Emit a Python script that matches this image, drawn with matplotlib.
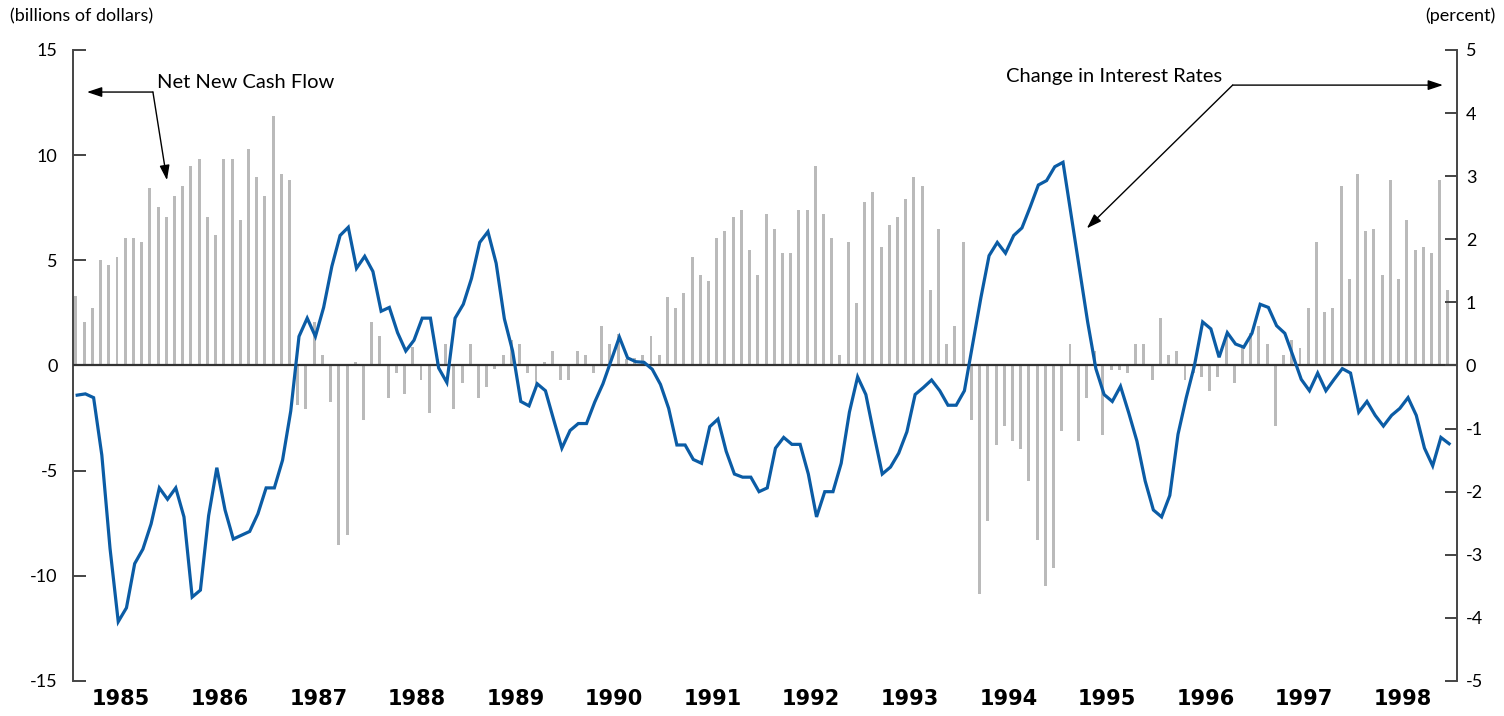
import numpy as np
import matplotlib
matplotlib.use("Agg")
import matplotlib.pyplot as plt

plt.rcParams['font.family'] = ['Lato', 'DejaVu Sans']
plt.rcParams['axes.unicode_minus'] = False

# monthly data, Jan 1985 - Dec 1998
years = [str(y) for y in range(1985, 1999)]

# net new cash flow, billions of dollars (bars)
cash_flow = [
    3.3, 2.05, 2.75, 5.0, 4.8, 5.15, 6.05, 6.05, 5.85, 8.45, 7.55, 7.05,
    8.05, 8.55, 9.5, 9.8, 7.05, 6.2, 9.8, 9.8, 6.9, 10.3, 8.95, 8.05,
    11.85, 9.1, 8.8, -1.9, -2.05, 2.05, 0.5, -1.75, -8.55, -8.05, 0.15, -2.6,
    2.05, 1.4, -1.55, -0.35, -1.35, 0.9, -0.7, -2.25, 0.3, 1.0, -2.05, -0.85,
    1.0, -1.55, -1.0, -0.15, 0.5, 1.2, 1.0, -0.35, -1.0, 0.15, 0.7, -0.7,
    -0.7, 0.7, 0.5, -0.35, 1.9, 1.0, 1.5, 0.3, 0.35, 0.5, 1.4, 0.5,
    3.25, 2.75, 3.45, 5.15, 4.3, 4.0, 6.05, 6.4, 7.05, 7.4, 5.5, 4.3,
    7.2, 6.5, 5.35, 5.35, 7.4, 7.4, 9.5, 7.2, 6.05, 0.5, 5.85, 2.95,
    7.75, 8.25, 5.65, 6.7, 7.05, 7.9, 8.95, 8.55, 3.6, 6.5, 1.0, 1.9,
    5.85, -2.6, -10.85, -7.4, -3.8, -2.9, -3.6, -3.95, -5.5, -8.3, -10.5, -9.65,
    -3.1, 1.0, -3.6, -1.55, 0.7, -3.3, -0.2, -0.2, -0.35, 1.0, 1.0, -0.7,
    2.25, 0.5, 0.7, -0.7, -0.35, -0.55, -1.2, -0.55, 1.4, -0.85, 0.9, 1.55,
    1.9, 1.0, -2.9, 0.5, 1.2, 0.85, 2.75, 5.85, 2.55, 2.75, 8.55, 4.1,
    9.1, 6.4, 6.5, 4.3, 8.8, 4.1, 6.9, 5.5, 5.65, 5.35, 8.8, 3.6,
]

# change in interest rates, percent (line)
rate_change = [
    -0.47, -0.45, -0.51, -1.42, -2.90, -4.06, -3.84, -3.14, -2.91, -2.51, -1.94, -2.12,
    -1.94, -2.40, -3.67, -3.56, -2.38, -1.62, -2.29, -2.75, -2.69, -2.63, -2.35, -1.94,
    -1.94, -1.50, -0.72, 0.46, 0.75, 0.46, 0.92, 1.57, 2.06, 2.19, 1.54, 1.73,
    1.49, 0.86, 0.92, 0.52, 0.23, 0.40, 0.75, 0.75, -0.04, -0.27, 0.75, 0.97,
    1.38, 1.95, 2.12, 1.62, 0.74, 0.23, -0.57, -0.64, -0.29, -0.40, -0.86, -1.31,
    -1.03, -0.92, -0.92, -0.58, -0.29, 0.08, 0.45, 0.12, 0.06, 0.05, -0.06, -0.30,
    -0.68, -1.26, -1.26, -1.49, -1.55, -0.97, -0.85, -1.36, -1.72, -1.77, -1.77, -2.00,
    -1.94, -1.31, -1.14, -1.25, -1.25, -1.72, -2.40, -2.00, -2.00, -1.55, -0.74, -0.18,
    -0.46, -1.10, -1.72, -1.61, -1.39, -1.05, -0.46, -0.35, -0.23, -0.40, -0.63, -0.63,
    -0.40, 0.34, 1.07, 1.74, 1.95, 1.78, 2.06, 2.18, 2.51, 2.86, 2.93, 3.15,
    3.22, 2.38, 1.53, 0.69, -0.05, -0.46, -0.57, -0.33, -0.75, -1.20, -1.83, -2.29,
    -2.40, -2.06, -1.09, -0.51, 0.0, 0.69, 0.58, 0.13, 0.52, 0.34, 0.29, 0.51,
    0.97, 0.92, 0.63, 0.51, 0.15, -0.22, -0.40, -0.12, -0.40, -0.22, -0.05, -0.12,
    -0.74, -0.57, -0.79, -0.96, -0.79, -0.68, -0.51, -0.79, -1.31, -1.59, -1.14, -1.24,
]

months = np.arange(len(cash_flow))

fig = plt.figure(figsize=(15.04, 7.16), dpi=100)
ax = fig.add_axes([0.0485, 0.0489, 0.9202, 0.8813])
ax2 = ax.twinx()

ax.bar(months, cash_flow, width=0.36, color='#bababa', zorder=2)
ax.axhline(0, color='#333333', lw=1.6, zorder=3)
ax2.plot(months + 0.15, rate_change, color='#0b5ca5', lw=2.3, solid_joinstyle='miter', zorder=4)

ax.set_xlim(-0.365, 168.1)
ax.set_ylim(-15, 15)
ax2.set_ylim(-5, 5)

ax.set_yticks(range(-15, 16, 5))
ax2.set_yticks(range(-5, 6))
ax.set_xticks(np.arange(len(years)) * 12 + 5.5)
ax.set_xticklabels(years, family='DejaVu Sans', fontweight='bold', fontsize=15)
ax.tick_params(axis='x', length=0, pad=6)
ax.tick_params(axis='y', direction='in', length=9, width=1.4, color='#444444',
               pad=11, labelsize=13)
ax2.tick_params(axis='y', direction='in', length=9, width=1.4, color='#444444',
                pad=6.5, labelsize=13)

for s in ['top', 'right', 'bottom']:
    ax.spines[s].set_visible(False)
for s in ['top', 'left', 'bottom']:
    ax2.spines[s].set_visible(False)
ax.spines['left'].set_color('#444444')
ax.spines['left'].set_linewidth(1.4)
ax2.spines['right'].set_color('#444444')
ax2.spines['right'].set_linewidth(1.4)

fig.text(10 / 1504, 1 - 16 / 716, '(billions of dollars)', fontsize=13,
         ha='left', va='center')
fig.text(1496 / 1504, 1 - 16 / 716, '(percent)', fontsize=13,
         ha='right', va='center')

arrow = dict(arrowstyle='-|>,head_length=0.9,head_width=0.3', color='black',
             lw=1.0, shrinkA=0, shrinkB=0)

# Net New Cash Flow callout
ax.text(9.86, 13.43, 'Net New Cash Flow', fontsize=14.5, ha='left', va='center')
ax.annotate('', xy=(1.34, 13.0), xytext=(9.37, 13.0), arrowprops=arrow)
ax.annotate('', xy=(11.08, 8.81), xytext=(9.37, 13.0), arrowprops=arrow)

# Change in Interest Rates callout
ax.text(139.5, 13.76, 'Change in Interest Rates', fontsize=14.5, ha='right', va='center')
ax.annotate('', xy=(166.4, 13.33), xytext=(140.8, 13.33), arrowprops=arrow)
ax.annotate('', xy=(123.05, 6.52), xytext=(140.8, 13.33), arrowprops=arrow)

fig.savefig('out.png', dpi=100)
